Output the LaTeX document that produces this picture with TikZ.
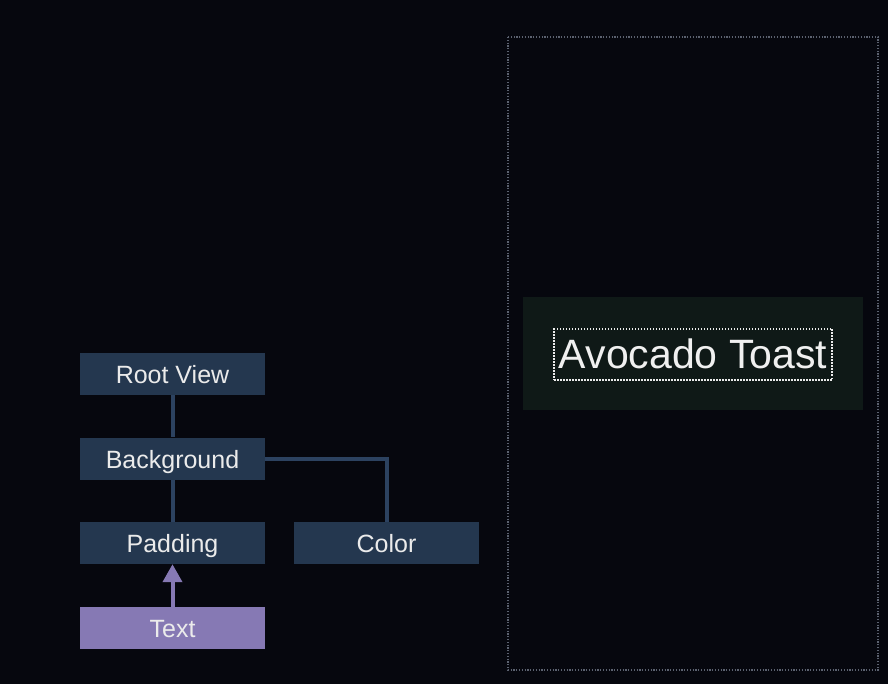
\documentclass[tikz,border=0pt]{standalone}
\usepackage{fontspec}
\setmainfont{Liberation Sans}
\usetikzlibrary{arrows.meta}
\usetikzlibrary{positioning}

\definecolor{bgdark}{HTML}{06070E}
\definecolor{viewblue}{HTML}{24374F}
\definecolor{linkblue}{HTML}{2C4260}
\definecolor{textpurple}{HTML}{8679B4}
\definecolor{canvasgreen}{HTML}{0F1917}
\definecolor{framegray}{HTML}{5C6270}

\tikzset{
  view/.style={fill=viewblue, text=white!92!black, minimum width=185pt, minimum height=42pt,
    inner sep=0pt, text height=19pt, text depth=0pt, font=\fontsize{25}{29}\selectfont},
  link/.style={draw=linkblue, line width=4pt},
}

\begin{document}
\begin{tikzpicture}[x=1pt, y=-1pt]
\fill[bgdark] (0,0) rectangle (888,684);
\useasboundingbox (0,0) rectangle (888,684);

% view tree
\node[view] (root) at (172.5,374) {Root View};
\node[view] (bg) at (172.5,458.5) {Background};
\node[view] (pad) at (172.5,543) {Padding};
\node[view] (color) at (386.5,543) {Color};
\node[view, fill=textpurple] (txt) at (172.5,628) {Text};

\draw[link] (root) -- (bg);
\draw[link] (bg) -- (pad);
\draw[link] (bg.east) -| (color.north);
\draw[textpurple, line width=4pt, -{Triangle[width=19pt, length=18pt]}] (txt) -- (pad);

% preview
\draw[framegray, line width=1.2pt, dash pattern=on 1.2pt off 1.6pt] (508,37) rectangle (878,670);
\fill[canvasgreen] (523,297) rectangle (863,410);
\node[draw=white!92!black, line width=1.5pt, dash pattern=on 1.5pt off 1.5pt,
  text=white!94!black, minimum width=278pt, minimum height=51pt, inner sep=0pt,
  text height=27pt, text depth=0pt,
  font=\fontsize{41}{48}\selectfont] (title) at (693,354.5) {Avocado Toast};

\end{tikzpicture}
\end{document}
